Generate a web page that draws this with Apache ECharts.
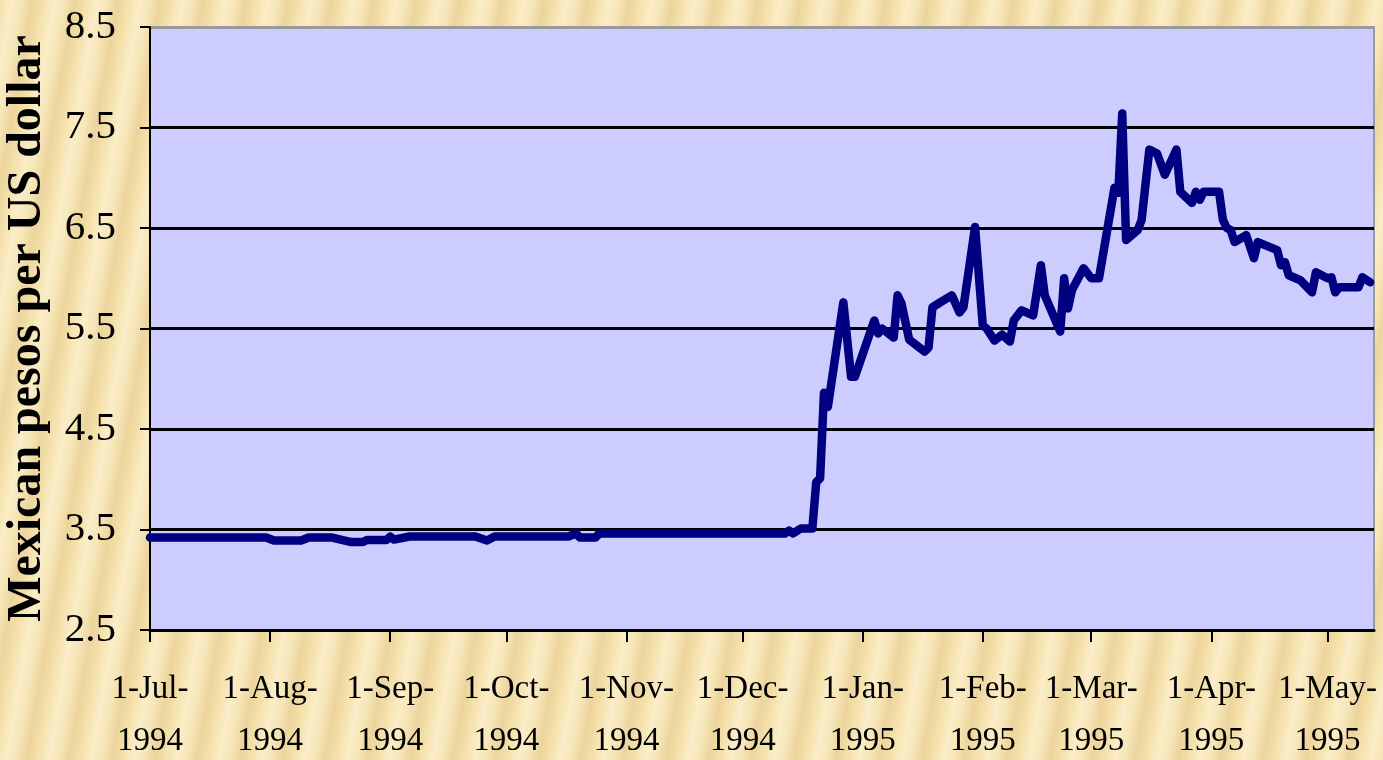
<!DOCTYPE html>
<html>
<head>
<meta charset="utf-8">
<script src="https://cdn.jsdelivr.net/npm/echarts@6/dist/echarts.min.js"></script>
<style>
html, body { margin: 0; padding: 0; }
body {
  width: 1383px; height: 760px; overflow: hidden;
  background-color: #f5e2ad;
  background-image: repeating-linear-gradient(100deg, #f4e0a9 0px, #faedc8 12px, #f6e5b6 22px, #ecd49d 32px, #f4e0a9 42px);
}
#chart { width: 1383px; height: 760px; }
</style>
</head>
<body>
<div id="chart"></div>
<script>
// Observation dates and exchange rate (Mexican pesos per US dollar)
const dates = [
  '1994-07-01','1994-07-31','1994-08-02','1994-08-09','1994-08-11','1994-08-17','1994-08-22','1994-08-25',
  '1994-08-26','1994-08-31','1994-09-01','1994-09-02','1994-09-06','1994-09-23','1994-09-26','1994-09-28',
  '1994-10-17','1994-10-19','1994-10-20','1994-10-24','1994-10-25','1994-12-12','1994-12-13','1994-12-14',
  '1994-12-16','1994-12-19','1994-12-20','1994-12-21','1994-12-22','1994-12-23','1994-12-27','1994-12-29',
  '1994-12-30','1995-01-04','1995-01-05','1995-01-06','1995-01-09','1995-01-10','1995-01-11','1995-01-13',
  '1995-01-17','1995-01-18','1995-01-19','1995-01-21','1995-01-24','1995-01-26','1995-01-27','1995-01-30',
  '1995-02-01','1995-02-02','1995-02-04','1995-02-06','1995-02-08','1995-02-09','1995-02-11','1995-02-14',
  '1995-02-16','1995-02-17','1995-02-21','1995-02-22','1995-02-23','1995-02-24','1995-02-27','1995-03-01',
  '1995-03-03','1995-03-05','1995-03-07','1995-03-08','1995-03-09','1995-03-10','1995-03-13','1995-03-14',
  '1995-03-16','1995-03-18','1995-03-20','1995-03-23','1995-03-24','1995-03-27','1995-03-28','1995-03-29',
  '1995-03-30','1995-04-03','1995-04-04','1995-04-05','1995-04-06','1995-04-07','1995-04-10','1995-04-12',
  '1995-04-13','1995-04-18','1995-04-19','1995-04-20','1995-04-21','1995-04-24','1995-04-27','1995-04-28',
  '1995-05-01','1995-05-02','1995-05-03','1995-05-04','1995-05-09','1995-05-10','1995-05-12'
];
const rates = [
  3.42, 3.42, 3.39, 3.39, 3.42, 3.42, 3.375, 3.375,
  3.395, 3.395, 3.43, 3.40, 3.43, 3.43, 3.39, 3.43,
  3.43, 3.46, 3.42, 3.42, 3.46, 3.46, 3.49, 3.46,
  3.51, 3.51, 3.97, 4.01, 4.86, 4.72, 5.76, 5.02,
  5.02, 5.58, 5.45, 5.50, 5.41, 5.83, 5.75, 5.39,
  5.27, 5.31, 5.71, 5.76, 5.83, 5.66, 5.71, 6.51,
  5.53, 5.50, 5.38, 5.44, 5.37, 5.58, 5.68, 5.63,
  6.13, 5.83, 5.47, 6.00, 5.70, 5.88, 6.10, 6.00,
  6.00, 6.45, 6.90, 6.85, 7.64, 6.38, 6.48, 6.58,
  7.28, 7.24, 7.03, 7.28, 6.86, 6.75, 6.86, 6.78,
  6.86, 6.86, 6.58, 6.50, 6.48, 6.36, 6.43, 6.20,
  6.36, 6.28, 6.13, 6.16, 6.03, 5.98, 5.86, 6.06,
  6.00, 6.01, 5.86, 5.91, 5.91, 6.01, 5.96
];
// Month-start ticks and their labels
const tickDates = ['1994-07-01','1994-08-01','1994-09-01','1994-10-01','1994-11-01','1994-12-01',
                   '1995-01-01','1995-02-01','1995-03-01','1995-04-01','1995-05-01'];
const tickLabels = ['1-Jul-\n1994','1-Aug-\n1994','1-Sep-\n1994','1-Oct-\n1994','1-Nov-\n1994','1-Dec-\n1994',
                    '1-Jan-\n1995','1-Feb-\n1995','1-Mar-\n1995','1-Apr-\n1995','1-May-\n1995'];
const axisEndDate = '1995-05-13';
const yTitle = 'Mexican pesos per US dollar';

const origin = Date.UTC(1994, 6, 1);
function dayOf(s) {
  const p = s.split('-').map(Number);
  return Math.round((Date.UTC(p[0], p[1] - 1, p[2]) - origin) / 86400000);
}
const tickDays = tickDates.map(dayOf);
const labelByDay = {};
tickDays.forEach((d, i) => { labelByDay[d] = tickLabels[i]; });
const seriesData = dates.map((d, i) => [dayOf(d), rates[i]]);

const serif = '"Liberation Serif", "Times New Roman", serif';
const chart = echarts.init(document.getElementById('chart'), null, { renderer: 'canvas' });
chart.setOption({
  backgroundColor: 'transparent',
  animation: false,
  grid: {
    left: 150, right: 9, top: 27, bottom: 130,
    outerBoundsMode: 'none',
    containLabel: false,
    show: true, backgroundColor: '#ccccff', borderColor: '#9a9a9a', borderWidth: 2
  },
  xAxis: {
    type: 'value',
    min: 0,
    max: dayOf(axisEndDate),
    axisLine: { show: true, onZero: false, lineStyle: { color: '#000', width: 3 } },
    axisTick: { show: true, customValues: tickDays, length: 12, inside: false, lineStyle: { color: '#000', width: 2 } },
    axisLabel: {
      customValues: tickDays,
      formatter: v => labelByDay[Math.round(v)] || '',
      fontFamily: serif, fontSize: 33, color: '#000', lineHeight: 52, margin: 33
    },
    splitLine: { show: false }
  },
  yAxis: {
    type: 'value',
    min: 2.5, max: 8.5, interval: 1,
    name: yTitle,
    nameLocation: 'middle',
    nameGap: 98,
    nameMoveOverlap: false,
    nameRotate: 90,
    nameTextStyle: { fontFamily: serif, fontSize: 48, fontWeight: 'bold', color: '#000' },
    axisLine: { show: true, lineStyle: { color: '#000', width: 2 } },
    axisTick: { show: true, length: 10, inside: false, lineStyle: { color: '#000', width: 2 } },
    axisLabel: {
      formatter: v => v.toFixed(1),
      fontFamily: serif, fontSize: 41, color: '#000', margin: 34
    },
    splitLine: {
      show: true,
      lineStyle: { color: ['#000', '#000', '#000', '#000', '#000', '#000', '#9a9a9a'], width: 3 }
    }
  },
  series: [{
    type: 'line',
    data: seriesData,
    showSymbol: false,
    symbol: 'none',
    lineStyle: { color: '#000080', width: 8.5, join: 'round', cap: 'round' },
    z: 5
  }]
});
</script>
</body>
</html>
